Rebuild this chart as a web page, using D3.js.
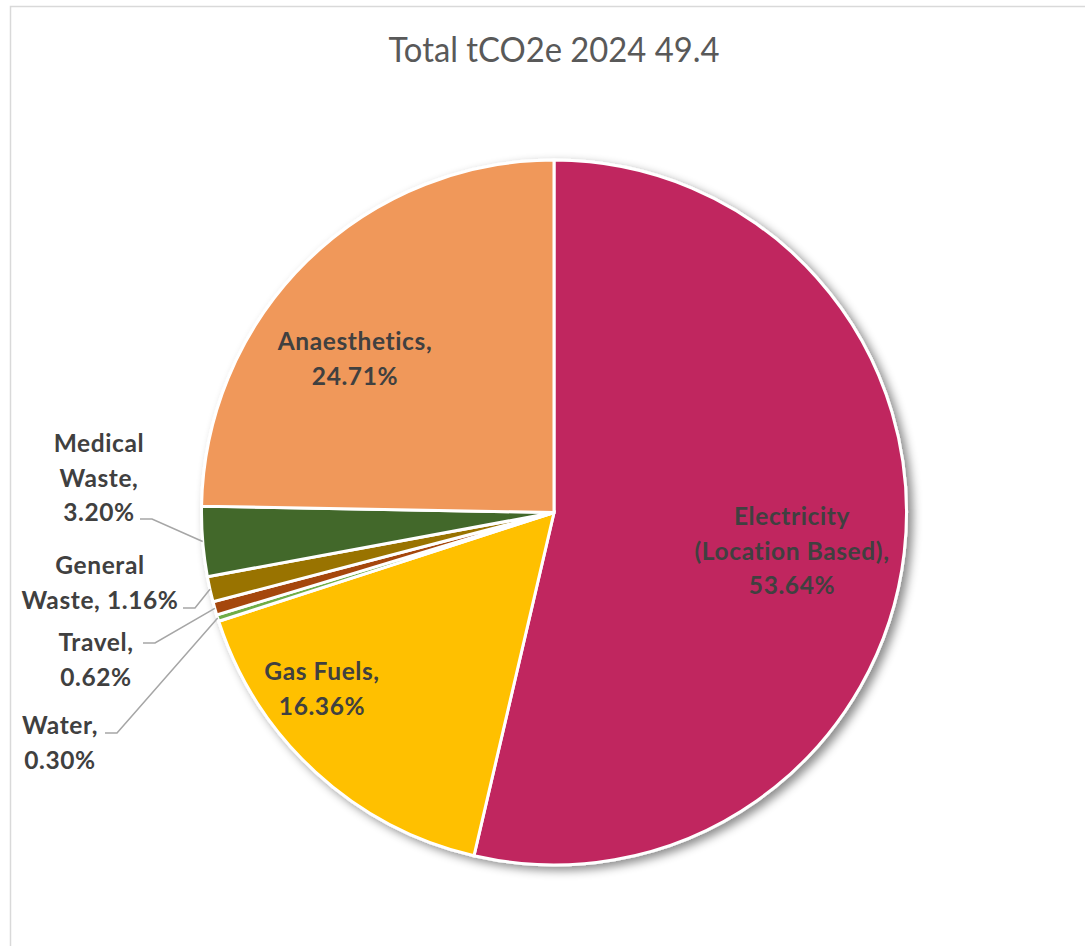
<!DOCTYPE html>
<html>
<head>
<meta charset="utf-8">
<script src="https://cdn.jsdelivr.net/npm/d3@7"></script>
<style>
html,body{margin:0;padding:0;background:#fff;}
svg{display:block;}
</style>
</head>
<body>
<svg id="chart" width="1085" height="946"></svg>
<script>
// ---- data ----
const categories = ["Electricity (Location Based)", "Gas Fuels", "Water", "Travel", "General Waste", "Medical Waste", "Anaesthetics"];
const values = [53.64, 16.36, 0.30, 0.62, 1.16, 3.20, 24.71];
const labelLines = [
  ["Electricity", "(Location Based),", "53.64%"],
  ["Gas Fuels,", "16.36%"],
  ["Water,", "0.30%"],
  ["Travel,", "0.62%"],
  ["General", "Waste, 1.16%"],
  ["Medical", "Waste,", "3.20%"],
  ["Anaesthetics,", "24.71%"]
];
const titleText = "Total tCO2e 2024 49.4";

// ---- styles / layout ----
const colors = ["#C0285F", "#FFC000", "#70AD47", "#A5470E", "#997300", "#43682B", "#F0985A"];
const labelLayout = [
  {x: 792, y: 551, out: false},
  {x: 322, y: 689, out: false},
  {x: 60, y: 743, out: true, lx: 105, ly: 733},
  {x: 96, y: 660, out: true, lx: 143, ly: 643},
  {x: 100, y: 583, out: true, lx: 183, ly: 608},
  {x: 99, y: 478, out: true, lx: 140, ly: 519},
  {x: 355, y: 359, out: false}
];
const cx = 554, cy = 512.5, R = 352.5;
const lineH = 34.5;

const svg = d3.select("#chart");

svg.append("rect").attr("x", 10.5).attr("y", 6.5).attr("width", 1100).attr("height", 1000)
  .attr("fill", "#fff").attr("stroke", "#D9D9D9").attr("stroke-width", 1.5);

const defs = svg.append("defs");
const f = defs.append("filter").attr("id", "shadow").attr("x", "-20%").attr("y", "-20%").attr("width", "140%").attr("height", "140%");
f.append("feDropShadow").attr("dx", 5).attr("dy", 4).attr("stdDeviation", 5).attr("flood-color", "#000").attr("flood-opacity", 0.45);

svg.append("text").attr("x", cx).attr("y", 62)
  .attr("text-anchor", "middle")
  .attr("font-family", "Lato, 'Open Sans', sans-serif")
  .attr("font-size", 35).attr("fill", "#595959")
  .attr("textLength", 331).attr("lengthAdjust", "spacingAndGlyphs")
  .text(titleText);

const pie = d3.pie().sort(null).value(d => d)(values);
const arc = d3.arc().innerRadius(0).outerRadius(R);

const g = svg.append("g").attr("transform", `translate(${cx},${cy})`);
g.append("g").attr("filter", "url(#shadow)")
  .selectAll("path").data(pie).join("path")
  .attr("d", arc)
  .attr("fill", (d, i) => colors[i])
  .attr("stroke", "#fff").attr("stroke-width", 3).attr("stroke-linejoin", "miter");

const labG = svg.append("g")
  .attr("font-family", "Lato, 'Open Sans', sans-serif")
  .attr("font-weight", "bold").attr("font-size", 24.5).attr("fill", "#404040")
  .attr("letter-spacing", 0.6);

pie.forEach((d, i) => {
  const L = labelLayout[i];
  const lines = labelLines[i];
  const t = labG.append("text").attr("text-anchor", "middle");
  const y0 = L.y - (lines.length - 1) * lineH / 2;
  lines.forEach((s, k) => {
    t.append("tspan").attr("x", L.x).attr("y", y0 + k * lineH).attr("dy", "0.35em").text(s);
  });
  if (L.out) {
    const mid = (d.startAngle + d.endAngle) / 2;
    const ex = cx + R * Math.sin(mid), ey = cy - R * Math.cos(mid);
    svg.append("polyline")
      .attr("points", `${L.lx},${L.ly} ${L.lx + 12},${L.ly} ${ex},${ey}`)
      .attr("fill", "none").attr("stroke", "#A6A6A6").attr("stroke-width", 1.5);
  }
});
</script>
</body>
</html>
